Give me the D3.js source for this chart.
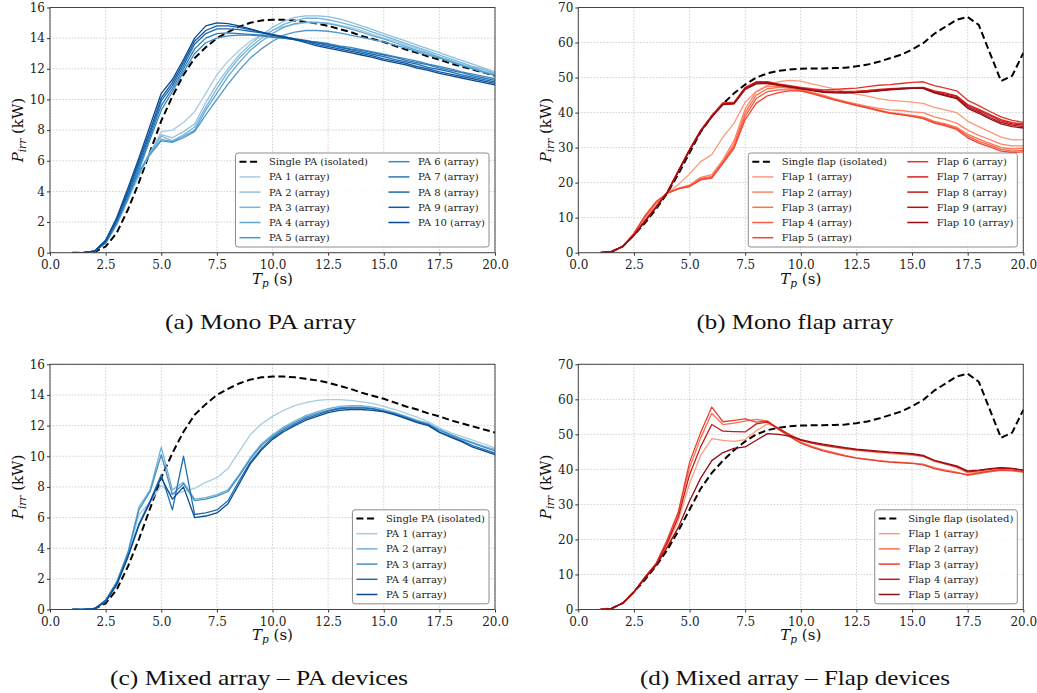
<!DOCTYPE html>
<html><head><meta charset="utf-8">
<script src="https://cdn.jsdelivr.net/npm/d3@7"></script>
<style>
html,body{margin:0;padding:0;background:#fff;}
svg{display:block;}
</style>
</head><body>
<svg id="fig" width="1037" height="693"></svg>
<script>
// ---------- DATA ----------
const tp = [1.0,1.5,2.0,2.5,3.0,3.5,4.0,4.5,5.0,5.5,6.0,6.5,7.0,7.5,8.0,8.5,9.0,9.5,10.0,10.5,11.0,11.5,12.0,12.5,13.0,13.5,14.0,14.5,15.0,15.5,16.0,16.5,17.0,17.5,18.0,18.5,19.0,19.5,20.0];
const xTicks = [0,2.5,5,7.5,10,12.5,15,17.5,20];
const yTicksPA = [0,2,4,6,8,10,12,14,16];
const yTicksFlap = [0,10,20,30,40,50,60,70];

const singlePA = [0,0,0.05,0.4,1.3,2.8,4.6,6.6,8.6,10.2,11.6,12.7,13.4,14.0,14.4,14.75,15.0,15.15,15.2,15.2,15.15,15.05,14.95,14.8,14.6,14.4,14.15,13.95,13.75,13.5,13.25,13.05,12.8,12.6,12.35,12.15,11.95,11.75,11.55];
const singleFlap = [0,0.3,1.8,5.0,8.5,12.5,17.0,22.5,28.5,34.5,39.0,42.5,45.5,48.0,50.0,51.2,51.9,52.3,52.5,52.6,52.6,52.7,52.8,53.2,53.7,54.5,55.5,56.5,58.0,59.8,62.5,64.5,66.5,67.3,65.0,57.0,49.0,50.5,57.0];

const monoPA1  = [0,0,0.1,0.6,1.8,3.4,5.0,6.5,7.9,8.0,8.5,9.2,10.4,11.6,12.5,13.2,13.8,14.2,14.5,14.75,14.9,15.0,15.0,15.0,14.85,14.7,14.5,14.25,14.0,13.8,13.55,13.3,13.05,12.8,12.55,12.3,12.1,11.85,11.65];
const monoPA2  = [0,0,0.1,0.7,2.0,3.6,5.2,6.6,7.7,7.5,7.9,8.4,9.8,11.0,12.0,12.9,13.6,14.2,14.7,15.1,15.35,15.45,15.45,15.4,15.25,15.05,14.8,14.55,14.3,14.05,13.8,13.55,13.3,13.05,12.8,12.55,12.3,12.05,11.8];
const monoPA3  = [0,0,0.1,0.7,2.0,3.6,5.1,6.5,7.6,7.3,7.7,8.2,9.5,10.7,11.8,12.7,13.4,14.0,14.5,14.9,15.15,15.3,15.3,15.2,15.05,14.85,14.65,14.4,14.15,13.9,13.65,13.4,13.15,12.9,12.65,12.4,12.15,11.95,11.7];
const monoPA4  = [0,0,0.1,0.8,2.1,3.7,5.2,6.5,7.4,7.25,7.6,8.0,9.3,10.4,11.5,12.4,13.2,13.8,14.3,14.7,14.95,15.05,15.05,14.95,14.8,14.6,14.4,14.15,13.95,13.7,13.45,13.2,13.0,12.75,12.5,12.25,12.05,11.8,11.6];
const monoPA5  = [0,0,0.1,0.8,2.2,3.8,5.3,6.4,7.3,7.2,7.5,7.9,9.0,10.0,11.0,11.9,12.7,13.3,13.8,14.2,14.4,14.5,14.5,14.45,14.35,14.2,14.05,13.9,13.75,13.55,13.35,13.1,12.9,12.7,12.45,12.2,12.0,11.75,11.55];
const monoPA6  = [0,0,0.1,0.6,1.9,3.5,5.4,7.4,9.3,10.5,11.8,13.0,13.7,14.0,14.15,14.2,14.2,14.15,14.05,14.0,13.9,13.8,13.75,13.65,13.5,13.4,13.25,13.1,12.95,12.8,12.65,12.5,12.3,12.15,12.0,11.8,11.65,11.5,11.35];
const monoPA7  = [0,0,0.1,0.7,2.0,3.7,5.6,7.6,9.6,10.7,12.0,13.3,14.0,14.3,14.35,14.3,14.25,14.2,14.1,14.0,13.9,13.8,13.7,13.6,13.45,13.3,13.2,13.05,12.9,12.75,12.55,12.4,12.25,12.05,11.9,11.75,11.55,11.4,11.25];
const monoPA8  = [0,0,0.1,0.7,2.1,3.9,5.8,7.8,9.9,10.9,12.2,13.6,14.3,14.6,14.6,14.55,14.45,14.35,14.2,14.1,13.95,13.85,13.7,13.55,13.4,13.25,13.1,12.95,12.8,12.6,12.45,12.3,12.1,11.95,11.8,11.6,11.45,11.3,11.15];
const monoPA9  = [0,0,0.1,0.8,2.2,4.0,6.0,8.0,10.1,11.1,12.4,13.8,14.5,14.8,14.8,14.7,14.55,14.4,14.25,14.1,13.95,13.8,13.6,13.45,13.3,13.15,13.0,12.85,12.65,12.5,12.35,12.15,12.0,11.8,11.65,11.5,11.35,11.2,11.05];
const monoPA10 = [0,0,0.1,0.8,2.3,4.2,6.2,8.3,10.4,11.3,12.6,14.0,14.8,15.0,14.95,14.8,14.6,14.4,14.2,14.05,13.9,13.7,13.5,13.35,13.2,13.05,12.9,12.75,12.55,12.4,12.25,12.05,11.9,11.7,11.55,11.4,11.25,11.1,10.95];

const monoFlap1  = [0,0.3,1.8,5.2,9.5,13.5,17.0,19.5,22.5,26.0,28.0,33.0,37.0,43.0,46.0,47.8,48.8,49.2,49.0,48.2,47.5,46.8,46.0,45.3,44.7,44.0,43.5,43.3,43.0,42.6,41.5,40.8,40.0,37.5,36.0,34.5,33.0,32.2,32.3];
const monoFlap2  = [0,0.3,1.8,5.3,10.0,14.0,17.0,18.4,19.3,21.5,22.3,26.5,32.0,41.0,46.0,47.5,47.5,47.0,46.5,45.8,45.0,44.0,43.2,42.5,41.8,41.2,40.8,40.6,40.2,40.0,38.8,38.0,37.0,35.0,33.5,32.3,31.0,30.5,30.5];
const monoFlap3  = [0,0.3,1.8,5.4,10.2,14.3,17.0,18.3,19.1,21.2,21.8,26.0,31.0,40.0,45.0,46.8,47.2,47.0,46.5,45.6,44.7,43.8,43.0,42.2,41.5,40.7,40.0,39.6,39.2,38.7,37.5,36.8,35.8,33.8,32.4,31.2,30.0,29.6,29.8];
const monoFlap4  = [0,0.3,1.8,5.5,10.5,14.5,17.0,18.3,19.0,21.0,21.5,25.8,30.3,39.0,44.0,46.0,46.5,46.5,46.2,45.4,44.5,43.6,42.8,42.0,41.3,40.5,39.8,39.4,39.0,38.4,37.2,36.5,35.5,33.3,31.8,30.7,29.5,29.0,29.2];
const monoFlap5  = [0,0.3,1.8,5.5,10.6,14.6,17.0,18.2,18.9,20.8,21.3,25.5,29.8,38.0,42.7,44.8,45.7,46.2,46.2,45.5,44.6,43.7,42.9,42.1,41.4,40.6,39.9,39.4,38.9,38.3,37.0,36.2,35.2,32.8,31.3,30.2,29.0,28.6,28.8];
const monoFlap6  = [0,0.3,1.8,5.0,9.0,13.0,17.3,23.5,29.5,35.0,39.2,42.8,43.0,47.2,48.8,48.8,48.2,47.7,47.2,46.8,46.5,46.6,46.8,47.0,47.4,47.8,48.0,48.3,48.6,48.8,47.7,47.0,46.2,43.5,42.0,40.3,38.8,37.8,37.2];
const monoFlap7  = [0,0.3,1.8,5.0,9.0,13.0,17.3,23.3,29.3,34.8,39.0,42.6,42.8,47.0,48.6,48.7,48.0,47.5,47.0,46.5,46.2,46.1,46.0,46.1,46.3,46.6,46.8,47.0,47.1,47.2,46.2,45.6,44.8,42.3,40.9,39.4,38.0,37.1,36.8];
const monoFlap8  = [0,0.3,1.8,5.0,9.0,13.0,17.3,23.3,29.3,34.8,38.9,42.5,42.7,47.0,48.6,48.6,48.0,47.5,47.0,46.5,46.0,45.8,45.7,45.8,46.0,46.3,46.6,46.9,47.0,47.1,46.0,45.3,44.6,42.0,40.6,39.1,37.6,36.8,36.4];
const monoFlap9  = [0,0.3,1.8,5.0,9.0,13.0,17.2,23.2,29.2,34.7,38.8,42.4,42.6,46.8,48.4,48.5,47.9,47.4,46.9,46.4,46.0,45.8,45.7,45.8,46.0,46.3,46.6,46.8,47.0,47.0,45.8,45.0,44.3,41.6,40.2,38.6,37.2,36.4,36.0];
const monoFlap10 = [0,0.3,1.8,5.0,9.0,13.0,17.2,23.2,29.2,34.6,38.7,42.3,42.5,46.6,48.2,48.3,47.8,47.3,46.8,46.3,45.8,45.6,45.6,45.7,45.9,46.2,46.5,46.7,46.9,46.9,45.6,44.8,44.0,41.2,39.8,38.2,36.8,36.0,35.6];

const mixPA1 = [0,0,0.05,0.5,1.7,3.5,6.2,7.0,8.1,7.5,7.7,7.9,8.3,8.6,9.2,10.3,11.4,12.1,12.6,13.0,13.3,13.5,13.65,13.7,13.7,13.65,13.55,13.45,13.25,13.05,12.8,12.55,12.25,11.85,11.55,11.3,11.05,10.8,10.55];
const mixPA2 = [0,0,0.05,0.6,1.8,3.7,6.7,7.8,10.6,7.8,8.3,7.2,7.3,7.5,7.8,8.8,9.9,10.8,11.4,11.9,12.3,12.65,12.9,13.1,13.25,13.3,13.3,13.2,13.05,12.85,12.6,12.35,12.15,11.75,11.45,11.15,10.9,10.65,10.45];
const mixPA3 = [0,0,0.05,0.6,1.8,3.7,6.5,7.7,10.1,7.5,8.2,7.1,7.2,7.4,7.7,8.7,9.8,10.7,11.3,11.8,12.2,12.55,12.8,13.0,13.15,13.2,13.2,13.1,12.95,12.8,12.55,12.3,12.1,11.7,11.4,11.1,10.85,10.6,10.35];
const mixPA4 = [0,0,0.05,0.6,1.7,3.5,5.6,7.1,8.8,6.5,10.0,6.2,6.3,6.5,7.1,8.4,9.6,10.5,11.2,11.7,12.1,12.45,12.7,12.95,13.1,13.15,13.15,13.1,12.95,12.75,12.5,12.25,12.05,11.6,11.3,11.0,10.7,10.45,10.2];
const mixPA5 = [0,0,0.05,0.5,1.6,3.4,5.5,7.0,8.6,7.2,8.0,6.0,6.1,6.3,6.9,8.2,9.5,10.4,11.1,11.6,12.0,12.35,12.6,12.85,13.0,13.05,13.05,13.0,12.9,12.7,12.45,12.2,12.0,11.55,11.25,10.95,10.6,10.35,10.1];

const mixFlap1 = [0,0.3,1.8,5.0,9.0,12.8,18.5,25.5,36.0,44.0,48.8,48.3,48.0,48.5,51.0,53.0,51.8,50.0,48.5,47.5,46.8,46.3,45.8,45.4,45.1,44.8,44.5,44.3,44.0,43.7,42.2,41.5,40.5,39.0,39.2,39.6,40.0,39.8,39.4];
const mixFlap2 = [0,0.3,1.8,5.0,9.2,13.0,19.5,27.5,40.5,49.0,56.0,52.8,53.2,53.8,54.3,53.8,51.5,49.5,47.8,46.6,45.6,44.8,44.0,43.3,42.9,42.5,42.2,42.0,41.8,41.5,40.5,39.8,39.2,38.3,38.8,39.3,39.7,39.6,39.2];
const mixFlap3 = [0,0.3,1.8,5.0,9.3,13.2,20.0,28.0,42.0,50.5,57.8,53.6,54.0,54.4,53.5,53.8,51.4,49.3,47.5,46.3,45.3,44.5,43.8,43.2,42.8,42.4,42.1,41.9,41.7,41.3,40.2,39.5,39.0,38.5,39.0,39.5,39.9,39.8,39.3];
const mixFlap4 = [0,0.3,1.8,5.0,9.2,13.0,19.0,26.5,38.5,46.5,52.8,50.9,50.8,50.7,53.0,53.5,51.7,49.8,48.3,47.5,46.9,46.4,46.0,45.6,45.3,45.0,44.8,44.6,44.3,43.8,42.5,41.6,40.8,39.3,39.6,40.0,40.4,40.2,39.7];
const mixFlap5 = [0,0.3,1.8,5.0,9.0,12.6,17.8,23.5,31.0,37.5,42.5,44.8,46.0,46.4,48.3,50.2,50.0,49.5,48.5,47.8,47.2,46.7,46.2,45.8,45.5,45.2,44.9,44.7,44.5,44.0,42.6,41.8,41.0,39.6,39.8,40.2,40.5,40.3,39.8];

const monoPASeries = [monoPA1,monoPA2,monoPA3,monoPA4,monoPA5,monoPA6,monoPA7,monoPA8,monoPA9,monoPA10];
const monoFlapSeries = [monoFlap1,monoFlap2,monoFlap3,monoFlap4,monoFlap5,monoFlap6,monoFlap7,monoFlap8,monoFlap9,monoFlap10];
const mixPASeries = [mixPA1,mixPA2,mixPA3,mixPA4,mixPA5];
const mixFlapSeries = [mixFlap1,mixFlap2,mixFlap3,mixFlap4,mixFlap5];

const captions = ["(a) Mono PA array","(b) Mono flap array","(c) Mixed array \u2013 PA devices","(d) Mixed array \u2013 Flap devices"];

// ---------- DRAW ----------
const svg = d3.select("#fig");
const SERIF = "'DejaVu Serif', serif";

function colorsFor(interp, n){
  return d3.range(n).map(i => interp(0.35 + 0.55*i/(n-1)));
}

function panel(cfg){
  const W = 445, H = 245.2;
  const g = svg.append("g").attr("transform",`translate(${cfg.left},${cfg.top})`);
  const x = d3.scaleLinear().domain([0,20]).range([0,W]);
  const y = d3.scaleLinear().domain([0,cfg.yMax]).range([H,0]);

  // grid
  g.append("g").selectAll("line").data(xTicks).join("line")
    .attr("x1",d=>x(d)).attr("x2",d=>x(d)).attr("y1",0).attr("y2",H)
    .attr("stroke","#c4c4c4").attr("stroke-width",0.8).attr("stroke-dasharray","1.5,1.6");
  g.append("g").selectAll("line").data(cfg.yTicks).join("line")
    .attr("x1",0).attr("x2",W).attr("y1",d=>y(d)).attr("y2",d=>y(d))
    .attr("stroke","#c4c4c4").attr("stroke-width",0.8).attr("stroke-dasharray","1.5,1.6");

  const line = d3.line().x((d,i)=>x(tp[i])).y(d=>y(d));
  const clipId = "clip"+cfg.id;
  g.append("clipPath").attr("id",clipId).append("rect").attr("x",0).attr("y",-2).attr("width",W+1).attr("height",H+2);
  const lines = g.append("g").attr("clip-path",`url(#${clipId})`);

  lines.append("path").datum(cfg.single).attr("d",line)
    .attr("fill","none").attr("stroke","#000").attr("stroke-width",2)
    .attr("stroke-dasharray","7,3.6");
  cfg.series.forEach((s,i)=>{
    lines.append("path").datum(s).attr("d",line)
      .attr("fill","none").attr("stroke",cfg.colors[i]).attr("stroke-width",1.3)
      .attr("stroke-linejoin","round");
  });

  // axes
  const ax = g.append("g").attr("transform",`translate(0,${H})`)
    .call(d3.axisBottom(x).tickValues(xTicks).tickFormat(d3.format(".1f")).tickSize(3).tickPadding(4.5));
  const ay = g.append("g")
    .call(d3.axisLeft(y).tickValues(cfg.yTicks).tickFormat(d3.format("d")).tickSize(3).tickPadding(2));
  [ax,ay].forEach(a=>{
    a.select(".domain").remove();
    a.selectAll("text").attr("font-family",SERIF).attr("font-size",12).attr("fill","#222");
    a.selectAll("line").attr("stroke","#333");
  });
  g.append("rect").attr("x",0).attr("y",0).attr("width",W).attr("height",H)
    .attr("fill","none").attr("stroke","#444").attr("stroke-width",1);

  // axis labels
  const xl = g.append("text").attr("x",W/2).attr("y",H+31).attr("text-anchor","middle")
    .attr("font-family",SERIF).attr("font-size",15).attr("fill","#111");
  xl.append("tspan").attr("font-style","italic").text("T");
  xl.append("tspan").attr("font-style","italic").attr("font-size",10.5).attr("dy",3).text("p");
  xl.append("tspan").attr("dy",-3).text(" (s)");

  const yl = g.append("text").attr("transform",`translate(${-27},${H/2}) rotate(-90)`)
    .attr("text-anchor","middle").attr("font-family",SERIF).attr("font-size",15).attr("fill","#111");
  yl.append("tspan").attr("font-style","italic").text("P");
  yl.append("tspan").attr("font-style","italic").attr("font-size",10.5).attr("dy",3).text("irr");
  yl.append("tspan").attr("dy",-3).text(" (kW)");

  // legend
  const items = [{label:cfg.singleLabel, dashed:true, color:"#000"}]
    .concat(cfg.series.map((s,i)=>({label:`${cfg.prefix} ${i+1} (array)`, dashed:false, color:cfg.colors[i]})));
  const nrows = 6;
  const cols = [];
  for(let c=0;c*nrows<items.length;c++) cols.push(items.slice(c*nrows,(c+1)*nrows));
  const lg = g.append("g");
  const box = lg.append("rect");
  const padL = 4, hl = 21, hgap = 8.5, colsp = 20.4, padR = 4, rowH = 15.2, firstRow = 8.7;
  const meas = svg.append("text").attr("font-family",SERIF).attr("font-size",10);
  const colW = cols.map(col => d3.max(col, it => { meas.text(it.label); return meas.node().getComputedTextLength(); }));
  meas.remove();
  let totalW = padL;
  cols.forEach((c,ci)=>{ totalW += hl + hgap + colW[ci] + (ci<cols.length-1?colsp:0); });
  totalW += padR;
  const boxH = 94;
  const bx = W - 6 - totalW, by = H - 5.7 - boxH;
  box.attr("x",bx).attr("y",by).attr("width",totalW).attr("height",boxH).attr("rx",2.5)
    .attr("fill","rgba(255,255,255,0.85)").attr("stroke","#8c8c8c").attr("stroke-width",1);
  let cx = bx + padL;
  cols.forEach((col,ci)=>{
    col.forEach((it,ri)=>{
      const yy = by + firstRow + ri*rowH;
      lg.append("line").attr("x1",cx).attr("x2",cx+hl).attr("y1",yy).attr("y2",yy)
        .attr("stroke",it.color).attr("stroke-width",it.dashed?2:1.5)
        .attr("stroke-dasharray",it.dashed?"7,3.6":null);
      lg.append("text").attr("x",cx+hl+hgap).attr("y",yy).attr("dy","0.35em")
        .attr("font-family",SERIF).attr("font-size",10).attr("fill","#222").text(it.label);
    });
    cx += hl + hgap + colW[ci] + colsp;
  });

  // caption
  svg.append("text").attr("x",cfg.capX).attr("y",cfg.capY).attr("text-anchor","middle")
    .attr("font-family","'Liberation Serif', serif").attr("font-size",22).attr("fill","#111")
    .attr("textLength",cfg.capW).attr("lengthAdjust","spacingAndGlyphs").text(cfg.caption);
}

panel({id:"a",left:50,top:7.5,yMax:16,yTicks:yTicksPA,single:singlePA,series:monoPASeries,
  colors:colorsFor(d3.interpolateBlues,10),singleLabel:"Single PA (isolated)",prefix:"PA",
  caption:captions[0],capX:260.5,capY:329,capW:191});
panel({id:"b",left:578.3,top:7.5,yMax:70,yTicks:yTicksFlap,single:singleFlap,series:monoFlapSeries,
  colors:colorsFor(d3.interpolateReds,10),singleLabel:"Single flap (isolated)",prefix:"Flap",
  caption:captions[1],capX:795,capY:329,capW:197});
panel({id:"c",left:50,top:364.3,yMax:16,yTicks:yTicksPA,single:singlePA,series:mixPASeries,
  colors:colorsFor(d3.interpolateBlues,5),singleLabel:"Single PA (isolated)",prefix:"PA",
  caption:captions[2],capX:259,capY:685,capW:298});
panel({id:"d",left:578.3,top:364.3,yMax:70,yTicks:yTicksFlap,single:singleFlap,series:mixFlapSeries,
  colors:colorsFor(d3.interpolateReds,5),singleLabel:"Single flap (isolated)",prefix:"Flap",
  caption:captions[3],capX:795,capY:685,capW:310});
</script>
</body></html>
